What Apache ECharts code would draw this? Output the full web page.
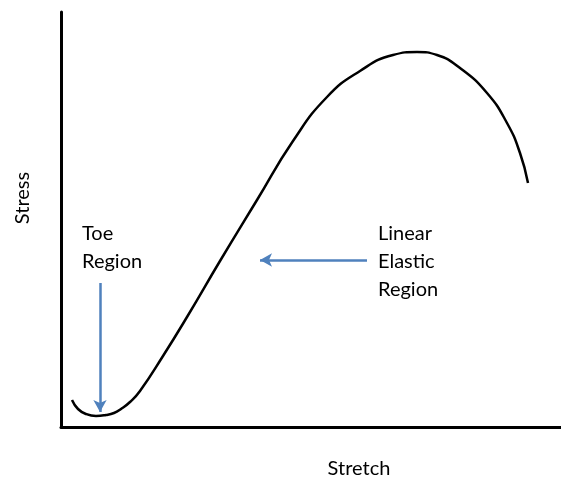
<!DOCTYPE html>
<html>
<head>
<meta charset="utf-8">
<script src="https://cdn.jsdelivr.net/npm/echarts@6/dist/echarts.min.js"></script>
<style>
    html, body { margin: 0; padding: 0; background: #fff; }
    #stress-chart { width: 561px; height: 477px; }
</style>
</head>
<body>
<div id="stress-chart"></div>
<script>
    // curve (stretch / stress, arbitrary units)
    var stretchData = [11, 17, 25, 35, 45, 53, 60, 69, 79, 102, 126, 159, 196, 232, 266, 299, 332, 356, 376, 399, 426, 446, 459, 467];
    var stressData = [27, 18, 13, 11, 12, 14, 18, 25, 36, 71, 110, 166, 227, 286, 330, 356, 372, 375, 372, 359, 334, 304, 274, 244];

    // arrows: [fromX, fromY] -> [toX, toY]
    var toeArrow = [[39, 144], [39, 15]];
    var linearArrow = [[306, 167], [199, 167]];

    var toeLabel = ['Toe', 'Region'];
    var linearLabel = ['Linear', 'Elastic', 'Region'];
    var xName = 'Stretch';
    var yName = 'Stress';

    var font = '20px Lato';
    var myChart = echarts.init(document.getElementById('stress-chart'));

    var curve = stretchData.map(function (x, i) { return [x, stressData[i]]; });

    myChart.setOption({
        animation: false,
        grid: { left: 61, right: 0, top: 12, bottom: 50 },
        xAxis: {
            type: 'value', min: 0, max: 500,
            axisLine: { show: true, onZero: false, lineStyle: { color: '#000', width: 3 } },
            axisTick: { show: false }, axisLabel: { show: false }, splitLine: { show: false }
        },
        yAxis: {
            type: 'value', min: 0, max: 415,
            axisLine: { show: true, onZero: false, lineStyle: { color: '#000', width: 3 } },
            axisTick: { show: false }, axisLabel: { show: false }, splitLine: { show: false }
        },
        series: [{
            type: 'line',
            data: curve,
            smooth: 0.5,
            showSymbol: false,
            lineStyle: { color: '#000', width: 2.5 },
            markLine: {
                silent: true,
                symbol: ['none', 'arrow'],
                symbolSize: [10, 12],
                label: { show: false },
                lineStyle: { color: '#4f81bd', width: 2.5, type: 'solid' },
                data: [
                    [{ coord: toeArrow[0] }, { coord: toeArrow[1] }],
                    [{ coord: linearArrow[0] }, { coord: linearArrow[1] }]
                ]
            }
        }],
        graphic: [
            { type: 'text', x: 82, y: 220, style: { text: toeLabel.join('\n'), font: font, lineHeight: 28, fill: '#000' } },
            { type: 'text', x: 378, y: 220, style: { text: linearLabel.join('\n'), font: font, lineHeight: 28, fill: '#000' } },
            { type: 'text', x: 359, y: 469, style: { text: xName, font: font, fill: '#000', align: 'center', verticalAlign: 'middle' } },
            { type: 'text', x: 23, y: 198, rotation: Math.PI / 2, style: { text: yName, font: font, fill: '#000', align: 'center', verticalAlign: 'middle' } }
        ]
    });
</script>
</body>
</html>
